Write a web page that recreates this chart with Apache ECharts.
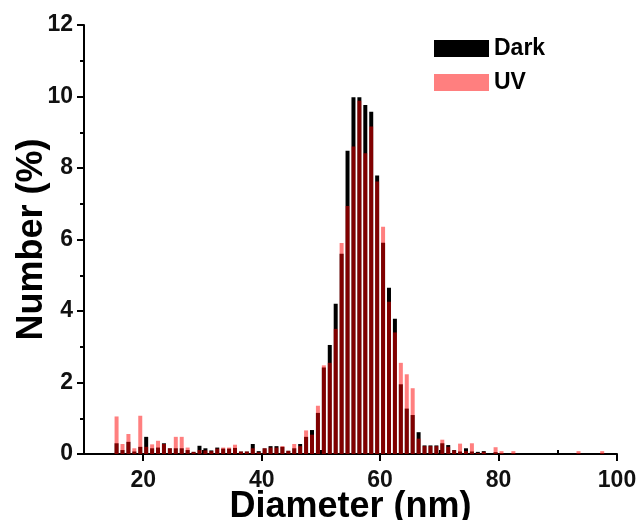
<!DOCTYPE html>
<html lang="en">
<head>
    <meta charset="UTF-8">
    <title>Diameter distribution</title>
    <script src="https://cdn.jsdelivr.net/npm/echarts@6/dist/echarts.min.js"></script>
    <style>
        html, body { margin: 0; padding: 0; background: #fff; }
        #chart { width: 637px; height: 520px; }
    </style>
</head>
<body>
<div id="chart"></div>
<script type="text/javascript">
    // bin centres (nm), 1 nm bins
    var bins = [15.5, 16.5, 17.5, 18.5, 19.5, 20.5, 21.5, 22.5, 23.5, 24.5,
        25.5, 26.5, 27.5, 28.5, 29.5, 30.5, 31.5, 32.5, 33.5, 34.5,
        35.5, 36.5, 37.5, 38.5, 39.5, 40.5, 41.5, 42.5, 43.5, 44.5,
        45.5, 46.5, 47.5, 48.5, 49.5, 50.5, 51.5, 52.5, 53.5, 54.5,
        55.5, 56.5, 57.5, 58.5, 59.5, 60.5, 61.5, 62.5, 63.5, 64.5,
        65.5, 66.5, 67.5, 68.5, 69.5, 70.5, 71.5, 72.5, 73.5, 74.5,
        75.5, 76.5, 77.5, 79.5, 80.5, 82.5, 93.5, 97.5];
    var dark = [0.30, 0.11, 0.34, 0.07, 0.20, 0.48, 0.16, 0.18, 0.30, 0.16,
        0.16, 0.16, 0.11, 0.06, 0.23, 0.16, 0.10, 0.18, 0.15, 0.15,
        0.17, 0.07, 0.07, 0.28, 0.08, 0.16, 0.22, 0.22, 0.20, 0.09,
        0.16, 0.28, 0.48, 0.67, 1.15, 2.42, 3.05, 4.20, 5.60, 8.48,
        9.98, 9.98, 9.76, 9.57, 7.79, 5.91, 4.65, 3.78, 1.95, 1.27,
        1.09, 0.61, 0.24, 0.24, 0.24, 0.30, 0.25, 0.11, 0.07, 0.16,
        0.07, 0.06, 0.08, 0.05, 0, 0, 0, 0];
    var uv = [1.05, 0.28, 0.56, 0.16, 1.07, 0.20, 0.27, 0.37, 0.28, 0.16,
        0.48, 0.48, 0.18, 0.06, 0.11, 0.10, 0.08, 0.15, 0.18, 0.18,
        0.26, 0.07, 0.07, 0.16, 0.05, 0.16, 0.18, 0.18, 0.22, 0.09,
        0.28, 0.22, 0.66, 0.54, 1.35, 2.48, 2.55, 3.50, 5.90, 6.94,
        8.60, 9.88, 8.41, 9.16, 7.62, 6.36, 4.26, 3.40, 2.55, 2.23,
        1.84, 0.43, 0.22, 0.22, 0.22, 0.40, 0.20, 0.10, 0.29, 0.08,
        0.30, 0.03, 0.06, 0.19, 0.08, 0.08, 0.08, 0.08];

    var xMajor = [20, 40, 60, 80, 100];
    var xMinor = [10, 30, 50, 70, 90];

    function pairs(vals) {
        return bins.map(function (b, i) { return [b, vals[i]]; });
    }

    var font = 'Liberation Sans';
    var axisCommon = {
        min: 10,
        max: 100,
        axisLine: { onZero: false, lineStyle: { color: '#000', width: 2 } },
        splitLine: { show: false }
    };

    var chart = echarts.init(document.getElementById('chart'));
    var option = {
        animation: false,
        backgroundColor: '#fff',
        grid: { left: 84, right: 20, top: 25, bottom: 66, outerBoundsMode: 'none', containLabel: false },
        legend: {
            orient: 'vertical',
            left: 434,
            top: 37,
            padding: 0,
            itemWidth: 55,
            itemHeight: 17,
            itemGap: 11,
            icon: 'rect',
            textStyle: { fontFamily: font, fontWeight: 'bold', fontSize: 23, color: '#000' },
            data: ['Dark', 'UV']
        },
        xAxis: [
            Object.assign({}, axisCommon, {
                type: 'value',
                interval: 10,
                name: 'Diameter (nm)',
                nameLocation: 'middle',
                nameGap: 35,
                nameMoveOverlap: false,
                nameTextStyle: { fontFamily: font, fontWeight: 'bold', fontSize: 36, color: '#000' },
                axisTick: { customValues: xMajor, length: 7, lineStyle: { color: '#000', width: 2 } },
                axisLabel: {
                    customValues: xMajor, margin: 15,
                    fontFamily: font, fontWeight: 'bold', fontSize: 23, color: '#111'
                }
            }),
            Object.assign({}, axisCommon, {
                type: 'value',
                interval: 10,
                axisLine: { show: false },
                axisTick: { customValues: xMinor, length: 4, lineStyle: { color: '#000', width: 2 } },
                axisLabel: { show: false }
            })
        ],
        yAxis: {
            type: 'value',
            min: 0,
            max: 12,
            interval: 2,
            name: 'Number (%)',
            nameLocation: 'middle',
            nameGap: 34,
            nameMoveOverlap: false,
            nameTextStyle: { fontFamily: font, fontWeight: 'bold', fontSize: 36, color: '#000' },
            axisLine: { show: true, lineStyle: { color: '#000', width: 2 } },
            axisTick: { show: true, length: 7, lineStyle: { color: '#000', width: 2 } },
            minorTick: { show: true, splitNumber: 2, length: 4, lineStyle: { color: '#000', width: 2 } },
            axisLabel: { margin: 11, fontFamily: font, fontWeight: 'bold', fontSize: 23, color: '#111' },
            splitLine: { show: false }
        },
        series: [
            {
                name: 'Dark',
                type: 'bar',
                barWidth: 4,
                barGap: '-100%',
                itemStyle: { color: '#000' },
                data: pairs(dark)
            },
            {
                name: 'UV',
                type: 'bar',
                barWidth: 4,
                barGap: '-100%',
                itemStyle: { color: 'rgba(255,0,0,0.5)' },
                data: pairs(uv)
            }
        ]
    };
    chart.setOption(option);
</script>
</body>
</html>
